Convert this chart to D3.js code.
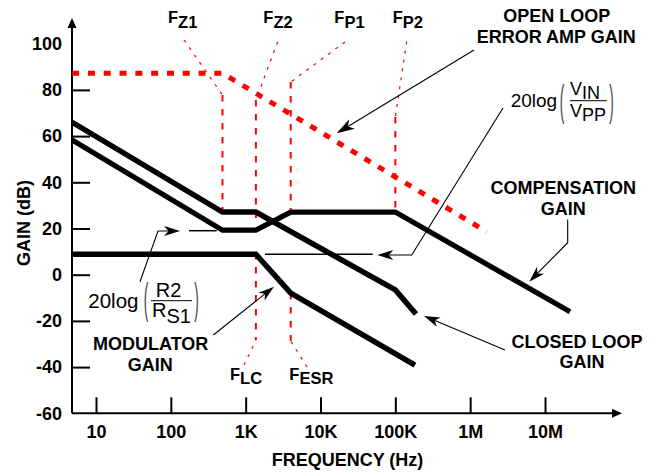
<!DOCTYPE html>
<html><head><meta charset="utf-8">
<script src="https://cdn.jsdelivr.net/npm/d3@7"></script>
<style>body{margin:0;background:#fff} svg{display:block}</style>
</head><body><svg id="c" width="657" height="474"></svg>
<script>
// ---------------- data ----------------
const xTickValues = [10, 100, 1e3, 1e4, 1e5, 1e6, 1e7];
const xTickLabels = ["10", "100", "1K", "10K", "100K", "1M", "10M"];
const yTickValues = [100, 80, 60, 40, 20, 0, -20, -40, -60];
const yTickLabels = ["100", "80", "60", "40", "20", "0", "-20", "-40", "-60"];

const openLoopF  = [4.8, 490, 1.66e6];
const openLoopDb = [87.2, 87.2, 18.6];

const compF  = [4.8, 490, 1370, 4000, 1e5, 2.16e7];
const compDb = [58.3, 19.3, 19.3, 27.1, 27.1, -16];

const closedF  = [4.8, 490, 1370, 1e5, 1.89e5];
const closedDb = [66, 27.1, 27.1, -6.6, -17];

const modF  = [4.8, 1370, 4000, 1.83e5];
const modDb = [8.8, 8.8, -8, -39.1];

const breakNames = ["Z1", "Z2", "P1", "P2", "LC", "ESR"];
const breakF     = [490, 1370, 4000, 1e5, 1370, 4000];
const breakTopDb = [77.8, 75.6, 83.4, 68.3, 9.4, -7.9];
const breakBotDb = [24.5, 24.5, 25, 28, -28.3, -28.7];

const r2LevelF  = [175, 410];
const r2LevelDb = [19.05, 19.05];
const vinLevelF  = [1810, 49900];
const vinLevelDb = [8.8, 8.8];

// ---------------- layout ----------------
const svg = d3.select("#c");
const FONT = "'Liberation Sans', Arial, Helvetica, sans-serif";
const x = d3.scaleLog().domain([10, 1e7]).range([96, 545]);
const y = d3.scaleLinear().domain([-60, 100]).range([413.3, 43.7]);
const xLeft = 72, xArrow = 622, yTopArrow = 18;

const line = d3.line().x(d => x(d[0])).y(d => y(d[1]));
const zip = (a, b) => a.map((v, i) => [v, b[i]]);

// axes
const gx = svg.append("g").attr("transform", `translate(0,${y(-60)})`)
  .call(d3.axisBottom(x).tickValues(xTickValues)
    .tickFormat((d, i) => xTickLabels[i]).tickSize(-16).tickPadding(11.5));
gx.select(".domain").remove();
gx.selectAll(".tick line").attr("stroke", "#000").attr("stroke-width", 2);
gx.selectAll(".tick text").attr("font-family", FONT).attr("font-weight", "bold")
  .attr("font-size", 18).attr("fill", "#000");

const gy = svg.append("g").attr("transform", `translate(${xLeft},0)`)
  .call(d3.axisLeft(y).tickValues(yTickValues)
    .tickFormat((d, i) => yTickLabels[i]).tickSize(-18).tickPadding(10));
gy.select(".domain").remove();
gy.selectAll(".tick line").attr("stroke", "#000").attr("stroke-width", 2)
  .attr("display", d => (d === 100 || d === -60) ? "none" : null);
gy.selectAll(".tick text").attr("font-family", FONT).attr("font-weight", "bold")
  .attr("font-size", 18).attr("fill", "#000");

// axis lines with arrows
svg.append("path").attr("d", `M${xLeft},${y(-60)}H${xArrow - 8}`).attr("stroke", "#000").attr("stroke-width", 2);
svg.append("path").attr("d", `M${xLeft},${y(-60)}V${yTopArrow + 8}`).attr("stroke", "#000").attr("stroke-width", 2);
svg.append("path").attr("d", `M${xArrow},${y(-60)}L${xArrow - 10},${y(-60) - 4.5}L${xArrow - 10},${y(-60) + 4.5}Z`).attr("fill", "#000");
svg.append("path").attr("d", `M${xLeft},${yTopArrow}L${xLeft - 4.5},${yTopArrow + 10}L${xLeft + 4.5},${yTopArrow + 10}Z`).attr("fill", "#000");

svg.append("text").attr("transform", "translate(30,223) rotate(-90)")
  .attr("text-anchor", "middle").attr("font-family", FONT).attr("font-weight", "bold")
  .attr("font-size", 18).text("GAIN (dB)");
svg.append("text").attr("x", 347.5).attr("y", 466)
  .attr("text-anchor", "middle").attr("font-family", FONT).attr("font-weight", "bold")
  .attr("font-size", 18).text("FREQUENCY (Hz)");

// ---------------- break-frequency markers ----------------
const labelPos = [
  {fx: 168, base: 23.3, lead: [184, 40], sub: 5},
  {fx: 263.3, base: 23.3, lead: [277.7, 41.7], sub: 5},
  {fx: 334.3, base: 23.3, lead: [345, 42], sub: 5},
  {fx: 392.7, base: 23.3, lead: [406.7, 41.7], sub: 5},
  {fx: 230, base: 380, lead: [244, 365], sub: 4},
  {fx: 289.3, base: 380, lead: [307, 367], sub: 4}
];
const gRed = svg.append("g");
breakNames.forEach((n, i) => {
  const xv = x(breakF[i]);
  gRed.append("line").attr("x1", xv).attr("x2", xv)
    .attr("y1", y(breakTopDb[i])).attr("y2", y(breakBotDb[i]))
    .attr("stroke", "#ff0000").attr("stroke-width", 2).attr("stroke-dasharray", "6.5,7.5");
  const p = labelPos[i];
  const endY = i < 4 ? y(breakTopDb[i]) : y(breakBotDb[i]);
  gRed.append("line").attr("x1", p.lead[0]).attr("y1", p.lead[1]).attr("x2", xv).attr("y2", endY)
    .attr("stroke", "#ff0000").attr("stroke-width", 1.2).attr("stroke-dasharray", "3,6");
  const t = svg.append("text").attr("x", p.fx).attr("y", p.base)
    .attr("font-family", FONT).attr("font-weight", "bold").attr("font-size", 16.5);
  t.append("tspan").text("F");
  t.append("tspan").attr("dy", p.sub).text(n);
});

// ---------------- curves ----------------
const thick = (data, w) => svg.append("path").attr("d", line(data)).attr("fill", "none")
  .attr("stroke", "#000").attr("stroke-width", w).attr("stroke-linejoin", "miter").attr("stroke-linecap", "butt");
thick(zip(compF, compDb), 5.2);
thick(zip(closedF, closedDb), 5.5);
thick(zip(modF, modDb), 5.5);

svg.append("path").attr("d", line(zip(r2LevelF, r2LevelDb))).attr("stroke", "#000").attr("stroke-width", 1.5);
svg.append("path").attr("d", line(zip(vinLevelF, vinLevelDb))).attr("stroke", "#000").attr("stroke-width", 1.5);

svg.append("path").attr("d", line(zip(openLoopF, openLoopDb))).attr("fill", "none")
  .attr("stroke", "#ff0000").attr("stroke-width", 5).attr("stroke-dasharray", "7,8.8");

// ---------------- annotations ----------------
function arrow(pts, L = 16, W = 5) {
  const a = pts[pts.length - 2], b = pts[pts.length - 1];
  const dx = b[0] - a[0], dy = b[1] - a[1], len = Math.hypot(dx, dy);
  const ux = dx / len, uy = dy / len, px = -uy, py = ux;
  const shaft = pts.slice(0, -1).concat([[b[0] - ux * L * 0.7, b[1] - uy * L * 0.7]]);
  svg.append("path").attr("d", d3.line()(shaft))
    .attr("fill", "none").attr("stroke", "#000").attr("stroke-width", 1.1);
  const bx = b[0] - ux * L, by = b[1] - uy * L;
  const nx = b[0] - ux * L * 0.72, ny = b[1] - uy * L * 0.72;
  svg.append("path").attr("d",
    `M${b[0]},${b[1]}L${bx + px * W},${by + py * W}L${nx},${ny}L${bx - px * W},${by - py * W}Z`)
    .attr("fill", "#000");
}
arrow([[474, 50], [336.7, 133.3]], 18, 5.5);
arrow([[567.7, 219.5], [567.7, 242.7], [529.3, 281.7]]);
arrow([[505, 350], [424, 316]]);
arrow([[213.3, 335], [274, 286.7]]);
arrow([[503, 108], [411.7, 255], [377.3, 255]]);
arrow([[140, 281.7], [158, 231], [180, 231]]);

function bold(lines) {
  lines.forEach(l => svg.append("text").attr("x", l[1]).attr("y", l[2]).attr("text-anchor", "middle")
    .attr("font-family", FONT).attr("font-weight", "bold").attr("font-size", 18).text(l[0]));
}
bold([["OPEN LOOP", 556.7, 21.7], ["ERROR AMP GAIN", 556.2, 42.7]]);
bold([["COMPENSATION", 563.3, 194], ["GAIN", 563.3, 214.5]]);
bold([["CLOSED LOOP", 577, 347.5], ["GAIN", 582, 367.5]]);
bold([["MODULATOR", 150.7, 350], ["GAIN", 150.3, 370.5]]);

// formula labels
function reg(txt, xx, yy, size, anchor) {
  return svg.append("text").attr("x", xx).attr("y", yy).attr("font-family", FONT)
    .attr("font-size", size).attr("text-anchor", anchor || "start").text(txt);
}
function paren(ch, xx, yTop, yBot) {
  const h = yBot - yTop;
  svg.append("text").attr("transform", `translate(${xx},${yBot - h * 0.2}) scale(0.75,${h / 21})`)
    .attr("font-family", FONT).attr("font-size", 18).attr("fill", "#444")
    .attr("text-anchor", "middle").text(ch);
}
// 20log(VIN/VPP)
reg("20log", 510.7, 106.7, 19);
paren("(", 562, 75, 125);
paren(")", 611.5, 75, 125);
{
  const t = reg("V", 570, 95, 18); t.append("tspan").attr("dy", 3.5).text("IN");
  svg.append("line").attr("x1", 570).attr("x2", 606.7).attr("y1", 100.7).attr("y2", 100.7)
    .attr("stroke", "#000").attr("stroke-width", 1);
  const b = reg("V", 570, 116.7, 18); b.append("tspan").attr("dy", 4).text("PP");
}
// 20log(R2/RS1)
reg("20log", 88.3, 307.5, 20.5);
paren("(", 146, 273.3, 323.3);
paren(")", 196.5, 273.3, 323.3);
{
  reg("R2", 168.5, 296.7, 20, "middle");
  svg.append("line").attr("x1", 151).attr("x2", 192).attr("y1", 300.7).attr("y2", 300.7)
    .attr("stroke", "#000").attr("stroke-width", 1);
  const b = reg("R", 152, 317.3, 20); b.append("tspan").attr("dy", 6).text("S1");
}
</script></body></html>
